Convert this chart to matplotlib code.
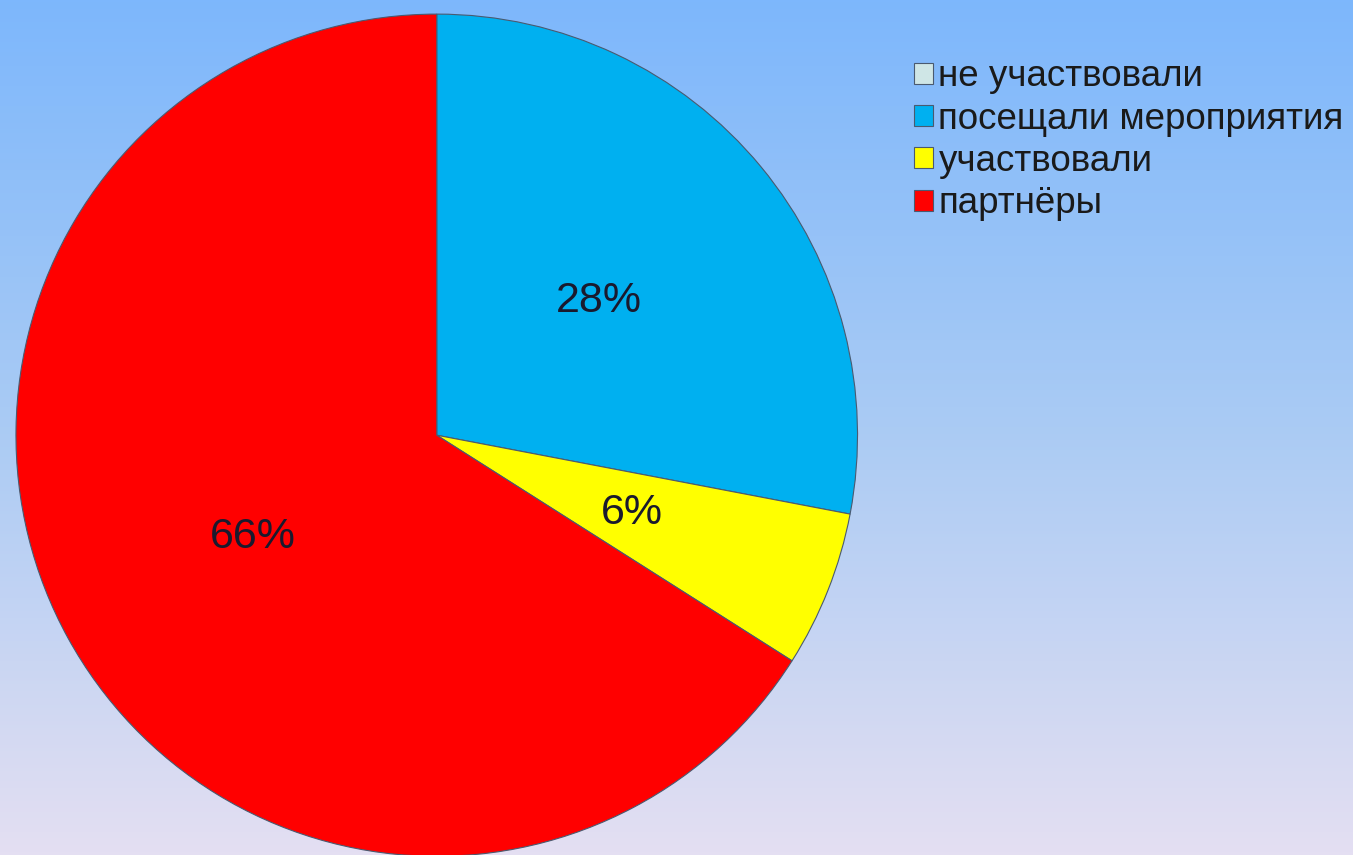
import numpy as np
import matplotlib
matplotlib.use("Agg")
import matplotlib.pyplot as plt
from matplotlib.colors import LinearSegmentedColormap

labels = ["не участвовали", "посещали мероприятия", "участвовали", "партнёры"]
shares = [0, 28, 6, 66]
colors = ["#cfe6e6", "#00b0f0", "#ffff00", "#ff0000"]

plt.rcParams['font.family'] = ['Liberation Sans', 'DejaVu Sans']

fig = plt.figure(figsize=(13.53, 8.55), dpi=100)

# background gradient
bg = fig.add_axes([0, 0, 1, 1], zorder=0)
grad = LinearSegmentedColormap.from_list("bg", ["#7db7fc", "#aacbf4", "#e4dff2"])
bg.imshow(np.linspace(0, 1, 256).reshape(-1, 1), cmap=grad, aspect="auto",
          extent=[0, 1, 0, 1])
bg.set_axis_off()


def pct(v):
    return "" if v < 0.5 else "%d%%" % round(v)


ax = fig.add_axes([0.0118, -0.0015, 0.622, 0.985], zorder=1)
wedges, _, autotexts = ax.pie(shares, colors=colors, startangle=90, counterclock=False,
                              autopct=pct, pctdistance=0.5,
                              wedgeprops=dict(edgecolor="#4a5a70", linewidth=0.8))
for t in autotexts:
    t.set_fontsize(31)
    t.set_color("#1a1a2e")
ax.set_aspect("auto")
ax.set_xlim(-1, 1)
ax.set_ylim(-1, 1)

leg = fig.legend(wedges, labels, loc="upper left", bbox_to_anchor=(0.665, 0.948),
                 frameon=False, fontsize=26.5, handlelength=0.5, handleheight=0.5,
                 handletextpad=0.15, labelspacing=0.2, borderaxespad=0)
for t in leg.get_texts():
    t.set_color("#1a1a1a")

fig.savefig("out.png", dpi=100)
